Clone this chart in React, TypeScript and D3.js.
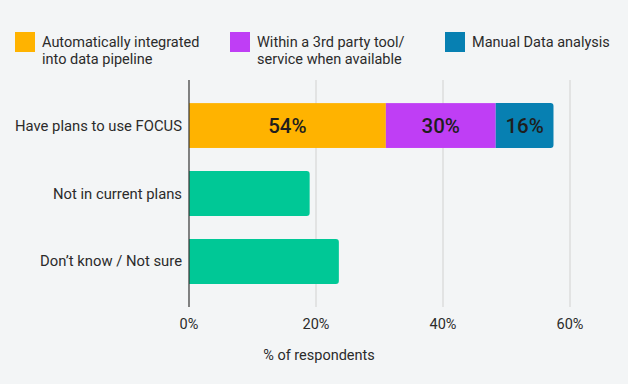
import React from 'react';
import * as d3 from 'd3';

const width = 628;
const height = 384;
const font = "Roboto, 'Noto Sans', sans-serif";
const ink = '#2b2b2b';

const categories = ['Have plans to use FOCUS', 'Not in current plans', 'Don\u2019t know / Not sure'];
const otherValues = [19.0, 23.6];

const seriesNames = ['Automatically integrated|into data pipeline', 'Within a 3rd party tool/|service when available', 'Manual Data analysis'];
const seriesColors = ['#ffb300', '#bf3ef5', '#0780b2'];
const planValues = [31.0, 17.3, 9.1];
const planShares = ['54%', '30%', '16%'];
const otherColor = '#00c896';

const xTicks = [0, 20, 40, 60];

const margin = { left: 189, right: 58, top: 80, bottom: 77 };

const x = d3.scaleLinear().domain([0, 60]).range([margin.left, width - margin.right]);
const y = d3.scaleBand<string>().domain(categories).range([margin.top, height - margin.bottom]).paddingInner(0.34).paddingOuter(0.34);

const legendX = [15, 230, 445];

// rectangle with only the right corners rounded
const rightRounded = (x0: number, y0: number, w: number, h: number, r: number) => {
  const p = d3.path();
  p.moveTo(x0, y0);
  p.lineTo(x0 + w - r, y0);
  p.arcTo(x0 + w, y0, x0 + w, y0 + r, r);
  p.lineTo(x0 + w, y0 + h - r);
  p.arcTo(x0 + w, y0 + h, x0 + w - r, y0 + h, r);
  p.lineTo(x0, y0 + h);
  p.closePath();
  return p.toString();
};

const App = () => {
  const stack = d3.cumsum(planValues);
  const bw = y.bandwidth();
  const axisBottom = height - margin.bottom;
  return (
    <svg width={width} height={height} style={{ position: 'absolute', left: 0, top: 0, background: '#f3f5f6' }}>
      <rect width={width} height={height} fill='#f3f5f6' />
      {seriesNames.map((name, i) => (
        <g key={name} transform={`translate(${legendX[i]}, 32)`}>
          <rect width={20} height={20} fill={seriesColors[i]} />
          <text fontFamily={font} fontSize={14.5} fill={ink}>
            {name.split('|').map((ln, j) => (
              <tspan key={j} x={27} y={15 + j * 17}>{ln}</tspan>
            ))}
          </text>
        </g>
      ))}
      {xTicks.slice(1).map(t => (
        <line key={t} x1={x(t)} x2={x(t)} y1={margin.top} y2={axisBottom} stroke='#dcdcdc' strokeWidth={1.5} />
      ))}
      {xTicks.map(t => (
        <text key={t} x={x(t)} y={axisBottom + 22} textAnchor='middle' fontFamily={font} fontSize={14.5} fill={ink}>{t}%</text>
      ))}
      {planValues.map((v, i) => {
        const x0 = x(stack[i] - v);
        const w = x(stack[i]) - x0;
        const y0 = y(categories[0])!;
        const last = i === planValues.length - 1;
        return (
          <g key={i}>
            {last
              ? <path d={rightRounded(x0, y0, w, bw, 3)} fill={seriesColors[i]} />
              : <rect x={x0} y={y0} width={w} height={bw} fill={seriesColors[i]} />}
            <text x={x0 + w / 2} y={y0 + bw / 2 + 7} textAnchor='middle' fontFamily={font} fontSize={20.5} fontWeight={500} fill='#1e1e1e'>{planShares[i]}</text>
          </g>
        );
      })}
      {otherValues.map((v, i) => (
        <path key={i} d={rightRounded(x(0), y(categories[i + 1])!, x(v) - x(0), bw, 3)} fill={otherColor} />
      ))}
      {categories.map(c => (
        <text key={c} x={182} y={y(c)! + bw / 2 + 5} textAnchor='end' fontFamily={font} fontSize={14.8} fill={ink}>{c}</text>
      ))}
      <line x1={x(0)} x2={x(0)} y1={margin.top} y2={axisBottom} stroke='#333' strokeWidth={1.2} />
      <text x={319} y={360} textAnchor='middle' fontFamily={font} fontSize={14.5} fill={ink}>% of respondents</text>
    </svg>
  );
};

export default App;
